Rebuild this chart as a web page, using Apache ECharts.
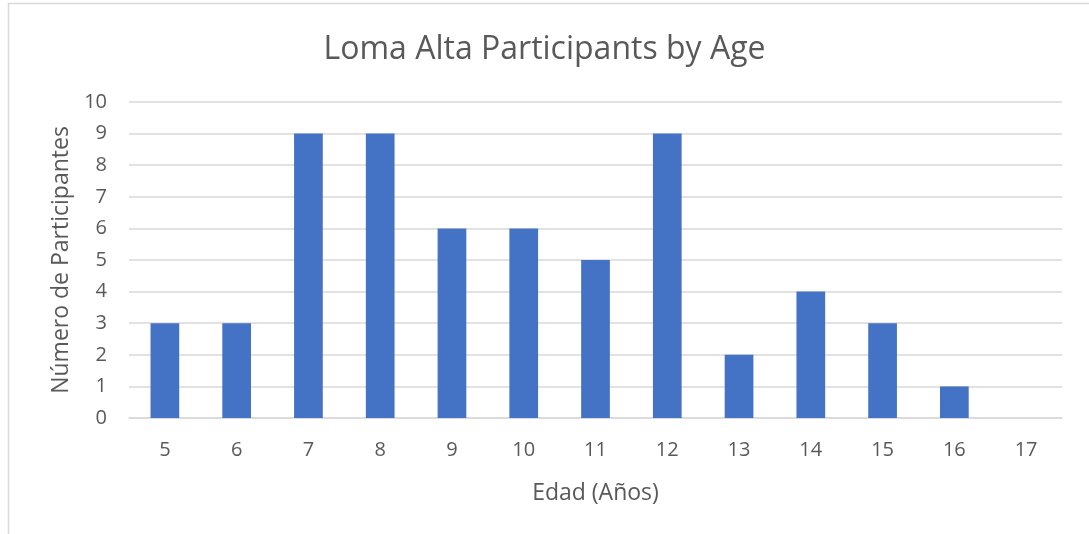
<!DOCTYPE html>
<html><head><meta charset="utf-8">
<script src="https://cdn.jsdelivr.net/npm/echarts@6/dist/echarts.min.js"></script>
<style>html,body{margin:0;padding:0;background:#fff}#c{width:1089px;height:534px}</style>
</head><body><div id="c"></div>
<script>
const title = 'Loma Alta Participants by Age';
const categories = ['5','6','7','8','9','10','11','12','13','14','15','16','17'];
const participants = [3,3,9,9,6,6,5,9,2,4,3,1,0];
const xName = 'Edad (Años)';
const yName = 'Número de Participantes';
const font = "'Open Sans', 'Liberation Sans', sans-serif";
const chart = echarts.init(document.getElementById('c'), null, {renderer:'canvas'});
chart.setOption({
  animation:false,
  backgroundColor:'#fff',
  graphic:[{type:'rect', shape:{x:8.5,y:3.5,width:1200,height:700}, style:{fill:'none',stroke:'#d9d9d9',lineWidth:1.5}, silent:true}],
  title:{text:title,left:'center',top:29,textStyle:{fontFamily:font,fontWeight:'normal',fontSize:32,color:'#595959'}},
  grid:{left:129,right:27,top:102,bottom:116,containLabel:false},
  xAxis:{type:'category',data:categories,name:xName,nameLocation:'middle',nameGap:64,
    nameTextStyle:{fontFamily:font,fontSize:23,color:'#595959'},
    axisLine:{lineStyle:{color:'#d9d9d9',width:1.5}},axisTick:{show:false},
    axisLabel:{fontFamily:font,fontSize:20,color:'#595959',margin:22}},
  yAxis:{type:'value',min:0,max:10,interval:1,name:yName,nameLocation:'middle',nameGap:54,
    nameTextStyle:{fontFamily:font,fontSize:23,color:'#595959'},
    axisLine:{show:false},axisTick:{show:false},
    splitLine:{lineStyle:{color:'#d9d9d9',width:1.5}},
    axisLabel:{fontFamily:font,fontSize:20,color:'#595959',margin:22}},
  series:[{type:'bar',data:participants,barWidth:'40%',itemStyle:{color:'#4472c4'}}]
});
</script></body></html>
